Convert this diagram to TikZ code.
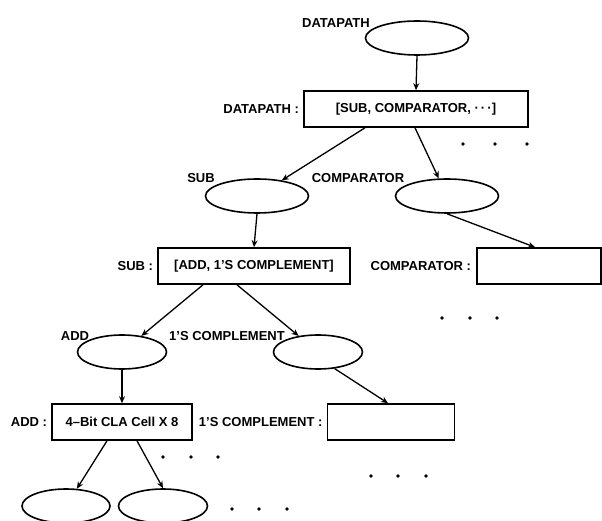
\documentclass[tikz,border=0pt]{standalone}
\usepackage{fontspec}
\setmainfont{Liberation Sans}
\usetikzlibrary{
  positioning,
  arrows.meta,
  shapes.geometric
}

\begin{document}
\begin{tikzpicture}[
  x=1pt, y=-1pt,
  font=\fontsize{13}{15}\selectfont\bfseries,
  modnode/.style={
    ellipse,
    draw,
    line width=1.6pt,
    minimum width=103pt,
    minimum height=34pt,
    inner sep=0pt
  },
  leafnode/.style={
    modnode,
    minimum width=89pt
  },
  implbox/.style={
    rectangle,
    draw,
    line width=1.6pt,
    minimum height=36pt,
    inner sep=2pt
  },
  modname/.style={
    inner sep=1pt
  },
  link/.style={
    -{Stealth[length=7pt, width=6pt]},
    line width=1.3pt
  }
]
\useasboundingbox (0,0) rectangle (602,521);

% Level 0: DATAPATH
\node[modnode] (dp) at (417,38) {};
\node[modname] (dpname) at (336,23) {DATAPATH};
\node[implbox, minimum width=224pt] (dpbox) at (416,109)
  {[SUB, COMPARATOR, \textperiodcentered\,\textperiodcentered\,\textperiodcentered]};
\node[modname, left=3pt of dpbox] (dpboxname) {DATAPATH :};

% Level 1: SUB and COMPARATOR
\node[modnode] (sub) at (257,196) {};
\node[modname] (subname) at (201,178) {SUB};
\node[modnode] (cmp) at (447,196) {};
\node[modname] (cmpname) at (358,178) {COMPARATOR};

\node[implbox, minimum width=192pt] (subbox) at (254,266) {[ADD, 1'S COMPLEMENT]};
\node[modname, left=3pt of subbox] (subboxname) {SUB :};
\node[implbox, minimum width=124pt] (cmpbox) at (539,266) {};
\node[modname, left=4pt of cmpbox] (cmpboxname) {COMPARATOR :};

% Level 2: ADD and 1'S COMPLEMENT
\node[leafnode] (add) at (122,352) {};
\node[modname] (addname) at (75,336) {ADD};
\node[leafnode] (one) at (318,352) {};
\node[modname] (onename) at (227,336) {1'S COMPLEMENT};

\node[implbox, minimum width=140pt] (addbox) at (122,422) {4--Bit CLA Cell X 8};
\node[modname, left=3pt of addbox] (addboxname) {ADD :};
\node[implbox, minimum width=127pt] (onebox) at (391,422) {};
\node[modname, left=3pt of onebox] (oneboxname) {1'S COMPLEMENT :};

% Level 3: CLA cells
\node[leafnode, minimum width=88pt] (cla1) at (66,506) {};
\node[leafnode] (cla2) at (163,506) {};

% Connections
\draw[link] (dp.south) -- (dpbox.north);
\draw[link] ([xshift=-51pt]dpbox.south) -- (sub);
\draw[link] ([xshift=-1pt]dpbox.south) -- (cmp);
\draw[link] (sub.south) -- (subbox.north);
\draw[link] (cmp.south) -- ([xshift=-4pt]cmpbox.north);
\draw[link] ([xshift=-51pt]subbox.south) -- (add);
\draw[link] ([xshift=-17pt]subbox.south) -- (one);
\draw[link] (add.south) -- (addbox.north);
\draw[link] (one.-45) -- ([xshift=-3pt]onebox.north);
\draw[link] ([xshift=-15pt]addbox.south) -- (cla1);
\draw[link] ([xshift=15pt]addbox.south) -- (cla2.north);

% Ellipsis dots for the other branches
\foreach \x/\y in {463/144, 495/144, 527/144,
                   442/318, 470/318, 497/318,
                   163/457, 191/457, 218/457,
                   371/476, 398/476, 426/476,
                   232/509, 259/509, 287/509}
  \fill (\x,\y) circle[radius=1.8pt];

\end{tikzpicture}
\end{document}
